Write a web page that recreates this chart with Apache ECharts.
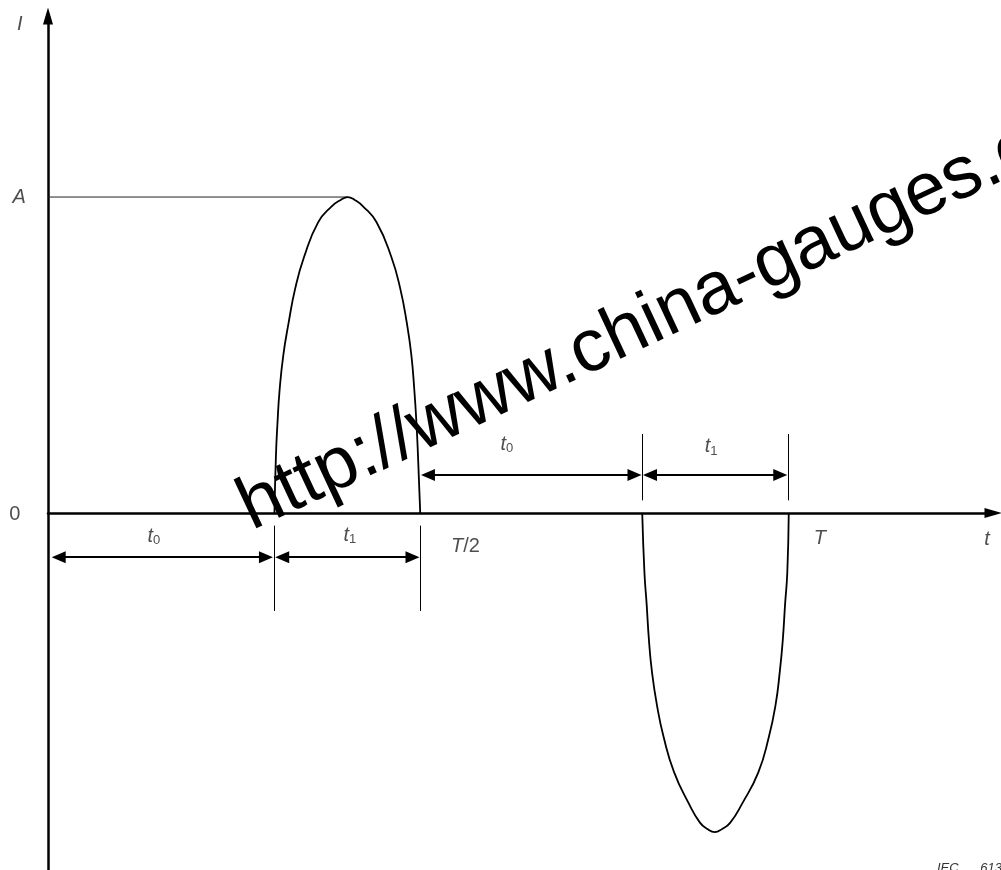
<!DOCTYPE html>
<html>
<head>
<meta charset="utf-8">
<title>I(t)</title>
<script src="https://cdn.jsdelivr.net/npm/echarts@6/dist/echarts.min.js"></script>
<style>html,body{margin:0;padding:0;background:#fff;}</style>
</head>
<body>
<div id="main" style="width:1001px;height:870px;"></div>
<script type="text/javascript">
// time in units where T = 10 (so T/2 = 5); current in units of A
var posPulseT = [3.06, 3.08, 3.10, 3.13, 3.18, 3.25, 3.34, 3.46, 3.65, 3.83, 3.95, 4.05,
                 4.15, 4.26, 4.44, 4.64, 4.76, 4.85, 4.91, 4.95, 4.98, 5.00, 5.03];
var posPulseI = [0, 0.18, 0.28, 0.39, 0.50, 0.60, 0.71, 0.81, 0.92, 0.97, 0.99, 1.00,
                 0.99, 0.97, 0.92, 0.81, 0.71, 0.60, 0.50, 0.39, 0.28, 0.18, 0];
var negPulseT = [8.03, 8.06, 8.09, 8.12, 8.16, 8.23, 8.32, 8.46, 8.66, 8.81, 8.91, 9.01,
                 9.11, 9.22, 9.38, 9.60, 9.74, 9.83, 9.89, 9.93, 9.96, 9.99, 10.01];
var negPulseI = [0, -0.19, -0.29, -0.40, -0.50, -0.61, -0.71, -0.82, -0.92, -0.98, -1.00, -1.01,
                 -1.00, -0.98, -0.92, -0.82, -0.71, -0.61, -0.50, -0.40, -0.29, -0.19, 0];

// 0, end of t0, T/2, end of second t0, T
var tMarks = [0, 3.06, 5.03, 8.03, 10.0];
var peakI = 1;
var peakT = 4.05;

// dimension arrows: [from, to] tips in time units
var lowerArrows = [[0.05, 3.04], [3.07, 5.02]];
var upperArrows = [[5.04, 8.02], [8.04, 9.99]];
var lowerRowI = -0.14;
var upperRowI = 0.12;
// extension lines (current range)
var lowerExt = [-0.04, -0.31];
var upperExt = [0.04, 0.25];

// axis ranges
var tMax = 12.77;
var iMin = -1.13;
var iMax = 1.573;

// labels
var labelText = ['{i|I}', '{i|A}', '{n|0}', '{i|t}{s|0}', '{i|t}{s|1}', '{i|T}{n|/2}',
                 '{i|t}{s|0}', '{i|t}{s|1}', '{i|T}', '{i|t}'];
var labelT = [-0.38, -0.39, -0.45, 1.43, 4.08, 5.64, 6.20, 8.96, 10.43, 12.69];
var labelI = [1.547, 1.0, -0.006, -0.073, -0.07, -0.107, 0.218, 0.21, -0.08, -0.085];

function pairs(xs, ys) {
    var out = [];
    for (var k = 0; k < xs.length; k++) out.push([xs[k], ys[k]]);
    return out;
}

var font = '"Liberation Sans", Arial, sans-serif';
var ink = '#000';
var headLen = 14;
var inset = (headLen / 2) / 74;   // half an arrowhead, in time units

function arrow(span, row) {
    return [{coord: [span[0] + inset, row]}, {coord: [span[1] - inset, row]}];
}
function ext(t, range) {
    return [{coord: [t, range[0]]}, {coord: [t, range[1]]}];
}

var dimLines = [
    arrow(lowerArrows[0], lowerRowI), arrow(lowerArrows[1], lowerRowI),
    arrow(upperArrows[0], upperRowI), arrow(upperArrows[1], upperRowI)
];
var extLines = [
    ext(tMarks[1], lowerExt), ext(tMarks[2], lowerExt),
    ext(tMarks[3], upperExt), ext(tMarks[4], upperExt)
];

var myChart = echarts.init(document.getElementById('main'));
myChart.setOption({
    animation: false,
    backgroundColor: '#fff',
    grid: {left: 48, right: 8, top: 16, bottom: 0},
    xAxis: {
        type: 'value', min: 0, max: tMax,
        axisLine: {show: true, onZero: true, symbol: ['none', 'triangle'], symbolSize: [10, 17],
                   lineStyle: {color: ink, width: 2.5}},
        axisTick: {show: false}, axisLabel: {show: false}, splitLine: {show: false}
    },
    yAxis: {
        type: 'value', min: iMin, max: iMax,
        axisLine: {show: true, symbol: ['none', 'triangle'], symbolSize: [10, 17],
                   lineStyle: {color: ink, width: 2.5}},
        axisTick: {show: false}, axisLabel: {show: false}, splitLine: {show: false}
    },
    graphic: [
        {
            type: 'text', x: 243, y: 512, rotation: 25 * Math.PI / 180, z: 100,
            style: {text: 'http://www.china-gauges.com', font: '74.5px ' + font, fill: ink,
                    align: 'left', verticalAlign: 'middle'}
        },
        {
            type: 'text', left: 937, top: 862,
            style: {text: 'IEC      613/05', font: 'italic 13px ' + font, fill: '#333'}
        }
    ],
    series: [
        {
            name: 'A', type: 'line', data: [[0, peakI], [peakT, peakI]], symbol: 'none',
            silent: true, lineStyle: {color: '#222', width: 1}
        },
        {
            name: 'pulse +', type: 'line', data: pairs(posPulseT, posPulseI), symbol: 'none',
            smooth: 0.5, silent: true, lineStyle: {color: ink, width: 1.8}, z: 3
        },
        {
            name: 'pulse -', type: 'line', data: pairs(negPulseT, negPulseI), symbol: 'none',
            smooth: 0.5, silent: true, lineStyle: {color: ink, width: 1.8}, z: 3
        },
        {
            name: 'dimensions', type: 'line', data: [], silent: true,
            markLine: {
                silent: true, symbol: ['triangle', 'triangle'], symbolSize: [12, headLen],
                label: {show: false}, emphasis: {disabled: true},
                lineStyle: {color: ink, width: 1.8, type: 'solid'},
                data: dimLines
            }
        },
        {
            name: 'extensions', type: 'line', data: [], silent: true,
            markLine: {
                silent: true, symbol: ['none', 'none'],
                label: {show: false}, emphasis: {disabled: true},
                lineStyle: {color: ink, width: 1, type: 'solid'},
                data: extLines
            }
        },
        {
            name: 'labels', type: 'scatter', symbolSize: 0, clip: false, silent: true,
            data: labelT.map(function (t, k) {
                return {value: [t, labelI[k]], label: {formatter: labelText[k]}};
            }),
            label: {
                show: true, position: 'inside', color: '#222',
                rich: {
                    i: {fontStyle: 'italic', fontSize: 20, fontFamily: font, lineHeight: 22, color: '#222'},
                    n: {fontSize: 20, fontFamily: font, lineHeight: 22, color: '#222'},
                    s: {fontSize: 13, fontFamily: font, lineHeight: 8, verticalAlign: 'bottom', color: '#222'}
                }
            }
        }
    ]
});
</script>
</body>
</html>
